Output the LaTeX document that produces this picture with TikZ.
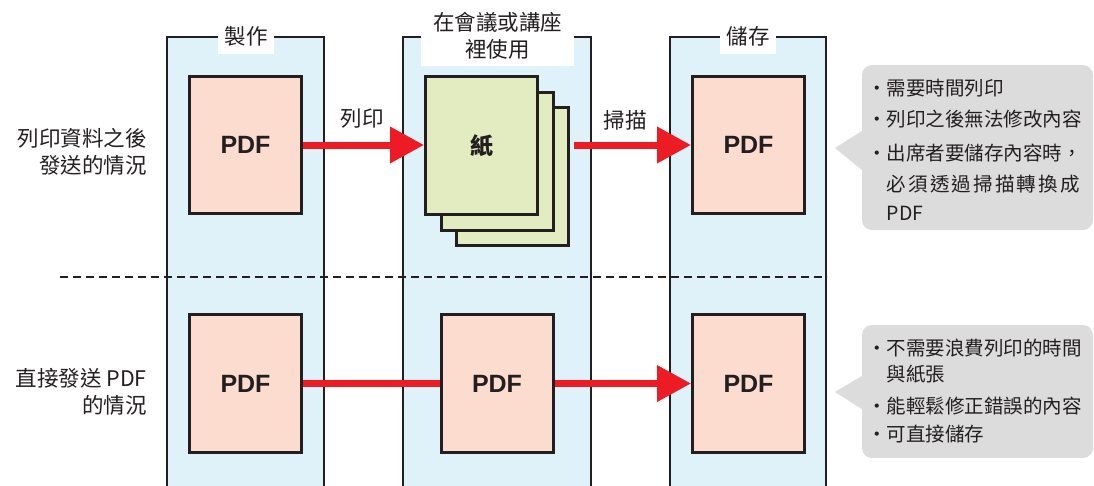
\documentclass[tikz,border=0pt]{standalone}
\usepackage{fontspec}
\setmainfont{Noto Sans CJK TC}
\newfontfamily\pdffont{Liberation Sans}
\usetikzlibrary{arrows.meta,calc}
\definecolor{colbg}{HTML}{DFF2FA}
\definecolor{pdfbg}{HTML}{FCDCCF}
\definecolor{paperbg}{HTML}{E3EBC0}
\definecolor{arrowred}{HTML}{ED1C24}
\definecolor{notebg}{HTML}{DCDCDC}
\definecolor{ink}{HTML}{231F20}
\tikzset{
  colbox/.style={draw=ink, fill=colbg, line width=2pt},
  pdfbox/.style={draw=ink, fill=pdfbg, line width=3pt, minimum width=112pt, minimum height=137pt, inner sep=0pt, text=ink, font=\pdffont\bfseries\fontsize{25}{25}\selectfont},
  paperbox/.style={draw=ink, fill=paperbg, line width=3pt, minimum width=112pt, minimum height=138pt, inner sep=0pt, text=ink, font=\bfseries\fontsize{23}{23}\selectfont},
  collabel/.style={fill=white, inner sep=0pt, text=ink, align=center, font=\fontsize{21.5}{27}\selectfont},
  rowlabel/.style={inner sep=0pt, text=ink, align=right, anchor=east, font=\fontsize{21.5}{27}\selectfont},
  arrowlabel/.style={inner sep=0pt, text=ink, font=\fontsize{21.5}{27}\selectfont},
  redline/.style={draw=arrowred, line width=7pt},
  redarrow/.style={redline, -{Triangle[length=34pt, width=35pt]}},
  divider/.style={draw=ink, line width=2pt, dash pattern=on 8pt off 5pt},
  note/.style={fill=notebg, rounded corners=10pt, inner sep=0pt},
  noteline/.style={inner sep=0pt, anchor=west, text=ink, font=\fontsize{19.5}{19.5}\selectfont, text height=0.88em, text depth=0.12em},
}
\begin{document}
\begin{tikzpicture}[x=1pt,y=-1pt]
\useasboundingbox (0,0) rectangle (1094,485);
\clip (0,0) rectangle (1094,485);

% columns
\path[colbox] (167,37) rectangle (324,500);
\path[colbox] (403,37) rectangle (591,500);
\path[colbox] (670,37) rectangle (826,500);

% column labels
\node[collabel, minimum width=56pt, minimum height=36pt] (lab1) at (246,36) {製作};
\node[collabel, minimum width=153pt, minimum height=61pt] (lab2) at (497.5,35.5) {在會議或講座\\裡使用};
\node[collabel, minimum width=56pt, minimum height=36pt] (lab3) at (748,36) {儲存};

% divider
\coordinate (dashL) at (60,277);
\coordinate (dashR) at (827,277);
\draw[divider] (dashL) -- (dashR);

% row labels
\node[rowlabel] (row1) at (147,151.5) {列印資料之後\\發送的情況};
\node[rowlabel] (row2) at (147,392) {直接發送 PDF\\的情況};

% top row
\node[pdfbox] (pdfA) at (245.5,145) {PDF};
\node[paperbox] (paper3) at (512.5,176.5) {};
\node[paperbox] (paper2) at (497,161) {};
\node[paperbox] (paper1) at (481.5,145.5) {紙};
\node[pdfbox] (pdfC) at (748.5,145) {PDF};

\coordinate (scanstart) at ($(paper3.east |- pdfA.center)+(4,0)$);
\draw[redarrow] (pdfA.east) -- (pdfA.east -| paper1.west);
\draw[redarrow] (scanstart) -- (pdfC.west);
\node[arrowlabel] (printlab) at (362,119) {列印};
\node[arrowlabel] (scanlab) at (625,120) {掃描};

% bottom row
\node[pdfbox, minimum height=138pt] (pdfD) at (245.5,383.5) {PDF};
\node[pdfbox, minimum height=138pt] (pdfE) at (497,383.5) {PDF};
\node[pdfbox, minimum height=138pt] (pdfF) at (748.5,383.5) {PDF};
\draw[redline] (pdfD.east) -- (pdfE.west);
\draw[redarrow] (pdfE.east) -- (pdfF.west);

% callout 1
\node[note, minimum width=231pt, minimum height=165pt] (note1) at (977.5,147.5) {};
\coordinate (tip1) at (835,148);
\fill[notebg] (note1.west |- 0,131) -- (tip1) -- (note1.west |- 0,170) -- ([xshift=5pt]note1.west |- 0,170) -- ([xshift=5pt]note1.west |- 0,131) -- cycle;
\node[noteline] (n1a) at (867,92) {・需要時間列印};
\node[noteline] (n1b) at (867,123) {・列印之後無法修改內容};
\node[noteline] (n1c) at (867,157) {・出席者要儲存內容時，};
\node[noteline] (n1d) at (886.5,188) {\makebox[9.9em][s]{必\hfill 須\hfill 透\hfill 過\hfill 掃\hfill 描\hfill 轉\hfill 換\hfill 成}};
\node[noteline] (n1e) at (886.5,217) {PDF};

% callout 2
\node[note, minimum width=231pt, minimum height=133pt] (note2) at (977.5,391.5) {};
\coordinate (tip2) at (835,392);
\fill[notebg] (note2.west |- 0,376) -- (tip2) -- (note2.west |- 0,409) -- ([xshift=5pt]note2.west |- 0,409) -- ([xshift=5pt]note2.west |- 0,376) -- cycle;
\node[noteline] (n2a) at (867,352) {・不需要浪費列印的時間};
\node[noteline] (n2b) at (886.5,378) {與紙張};
\node[noteline] (n2c) at (867,410) {・能輕鬆修正錯誤的內容};
\node[noteline] (n2d) at (867,438) {・可直接儲存};
\end{tikzpicture}
\end{document}
